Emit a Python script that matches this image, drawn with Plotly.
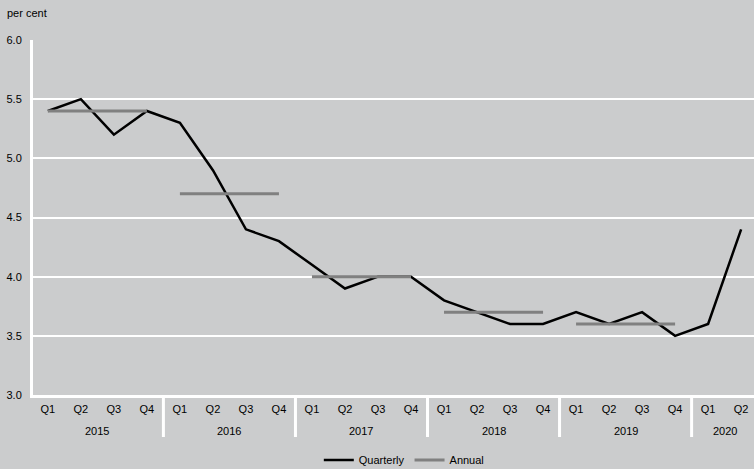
import plotly.graph_objects as go

years = ["2015", "2016", "2017", "2018", "2019", "2020"]
quarters = ["Q1", "Q2", "Q3", "Q4"]
quarterly = [5.4, 5.5, 5.2, 5.4,
             5.3, 4.9, 4.4, 4.3,
             4.1, 3.9, 4.0, 4.0,
             3.8, 3.7, 3.6, 3.6,
             3.7, 3.6, 3.7, 3.5,
             3.6, 4.4]
annual_years = ["2015", "2016", "2017", "2018", "2019"]
annual = [5.4, 4.7, 4.0, 3.7, 3.6]

n = len(quarterly)
idx = list(range(n))
q_labels = [quarters[i % 4] for i in idx]

bg = "#cbcccd"
fig = go.Figure()
fig.add_trace(go.Scatter(
    x=idx, y=quarterly, mode="lines",
    line=dict(color="#000000", width=2.5),
    name="Quarterly", legendrank=1))
for k, (yr, v) in enumerate(zip(annual_years, annual)):
    start = years.index(yr) * 4
    fig.add_trace(go.Scatter(
        x=[start, start + 3], y=[v, v], mode="lines",
        line=dict(color="#808080", width=3),
        name="Annual", legendgroup="annual", showlegend=(k == 0),
        legendrank=2))

plot_h = 469 - 40 - 74
annotations = [dict(text="per cent", xref="paper", yref="paper", x=-0.039, y=1.075,
                    xanchor="left", yanchor="middle", showarrow=False,
                    font=dict(size=11))]
shapes = []
for j, yr in enumerate(years):
    first = j * 4
    last = min(first + 3, n - 1)
    annotations.append(dict(text=yr, xref="x", yref="paper", x=(first + last) / 2,
                            y=-36 / plot_h, xanchor="center", yanchor="middle",
                            showarrow=False, font=dict(size=11)))
    shapes.append(dict(type="line", xref="x", yref="paper", x0=first - 0.5,
                       x1=first - 0.5, y0=0, y1=-42 / plot_h,
                       line=dict(color="#ffffff", width=3), layer="above"))

fig.update_layout(
    width=754, height=469,
    paper_bgcolor=bg, plot_bgcolor=bg,
    margin=dict(l=33, r=0, t=40, b=74, autoexpand=False),
    font=dict(family="Liberation Sans, Arial, sans-serif", size=11, color="#000000"),
    showlegend=True,
    legend=dict(orientation="h", x=0.515, xanchor="center", y=-65 / plot_h,
                yanchor="middle", bgcolor="rgba(0,0,0,0)", itemwidth=30,
                font=dict(size=11), tracegroupgap=0),
    annotations=annotations,
    shapes=shapes,
)
fig.update_xaxes(showgrid=False, showline=True, zeroline=False,
                 linecolor="#ffffff", linewidth=3, ticks="",
                 tickmode="array", tickvals=idx, ticktext=q_labels,
                 tickfont=dict(size=11), ticklabelstandoff=2,
                 range=[-0.45, 21.39], automargin=False)
fig.update_yaxes(range=[3, 6], dtick=0.5, tickformat=".1f", showgrid=True,
                 gridcolor="#ffffff", gridwidth=1.5, showline=True,
                 linecolor="#ffffff", linewidth=3, zeroline=False,
                 ticks="", tickfont=dict(size=11), ticklabelstandoff=6,
                 automargin=False)
fig.write_html("out.html", config={"displayModeBar": False},
               post_script="document.body.style.margin='0';")
